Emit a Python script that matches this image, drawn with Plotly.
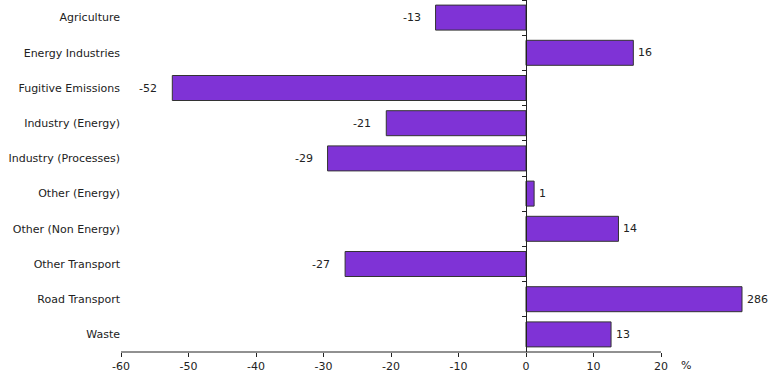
import plotly.graph_objects as go

categories = ["Agriculture", "Energy Industries", "Fugitive Emissions", "Industry (Energy)",
              "Industry (Processes)", "Other (Energy)", "Other (Non Energy)", "Other Transport",
              "Road Transport", "Waste"]
values = [-13.4, 15.9, -52.4, -20.7, -29.4, 1.2, 13.7, -26.8, 286, 12.6]
labels = ["-13", "16", "-52", "-21", "-29", "1", "14", "-27", "286", "13"]
tick_vals = [-60, -50, -40, -30, -20, -10, 0, 10, 20]
tick_text = ["-60", "-50", "-40", "-30", "-20", "-10", "0", "10", "20"]

# bars beyond this value are drawn truncated (as in the original)
display_cap = 32
shown = [min(v, display_cap) for v in values]

x_range = [-60, 35.85]
font = dict(family="DejaVu Sans, Verdana, sans-serif", size=11, color="#222")

fig = go.Figure()
fig.add_trace(go.Bar(
    x=shown, y=categories, orientation="h",
    marker=dict(color="#7F33D6", line=dict(color="#333333", width=1)),
    width=0.71, hoverinfo="skip", showlegend=False,
))
# invisible trace for the category axis drawn at x = 0
fig.add_trace(go.Scatter(x=[0] * len(categories), y=categories, yaxis="y2",
                         mode="markers", marker=dict(opacity=0), hoverinfo="skip",
                         showlegend=False))

for c, s, lab in zip(categories, shown, labels):
    if s >= 0:
        fig.add_annotation(x=s, y=c, text=lab, showarrow=False, xanchor="left",
                           xshift=3, font=font)
    else:
        fig.add_annotation(x=s, y=c, text=lab, showarrow=False, xanchor="right",
                           xshift=-13, font=font)

fig.add_annotation(x=20, y=0, xref="x", yref="paper", text="%", showarrow=False,
                   xanchor="left", yanchor="top", xshift=18, yshift=-5, font=font)

# x axis line only from -60 to 20
fig.add_shape(type="line", x0=tick_vals[0], x1=tick_vals[-1], y0=0, y1=0,
              xref="x", yref="paper", line=dict(color="#222", width=1))

pos0 = (0 - x_range[0]) / (x_range[1] - x_range[0])
fig.update_layout(
    width=768, height=373,
    margin=dict(l=121, r=0, t=0, b=21),
    plot_bgcolor="white", paper_bgcolor="white",
    font=font,
    xaxis=dict(range=x_range, tickvals=tick_vals, ticktext=tick_text, ticks="outside",
               ticklen=4, tickcolor="#222", showgrid=False, zeroline=False, showline=False),
    yaxis=dict(categoryorder="array", categoryarray=categories, range=[9.5, -0.5],
               showgrid=False, ticks="", showline=False),
    yaxis2=dict(overlaying="y", anchor="free", position=pos0, side="left",
                categoryorder="array", categoryarray=categories, range=[9.5, -0.5],
                showticklabels=False, ticks="outside", ticklen=4, tickcolor="#222",
                tickson="boundaries", showline=True, linecolor="#222", linewidth=1,
                showgrid=False, zeroline=False),
)

fig.write_html("out.html", config={"displayModeBar": False},
               post_script="document.body.style.margin='0';document.body.style.overflow='hidden';")
